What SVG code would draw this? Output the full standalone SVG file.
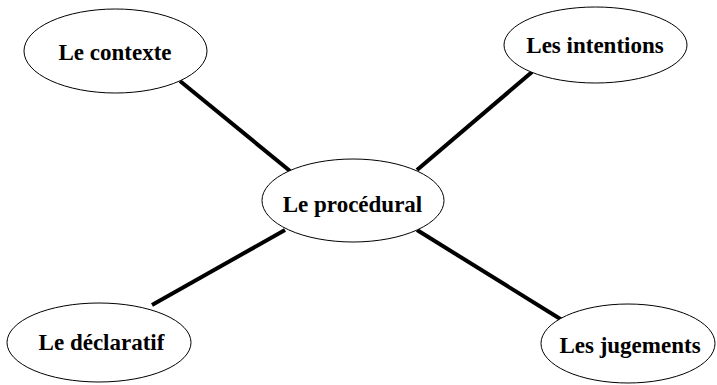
<svg xmlns="http://www.w3.org/2000/svg" width="717" height="385" viewBox="0 0 717 385">
<style>
.n ellipse{fill:#fff;stroke:#000;stroke-width:1}
.n text{font-family:"Liberation Serif","Times New Roman",serif;font-weight:bold;font-size:23px;text-anchor:middle;fill:#000}
#edges line{stroke:#000;stroke-width:4}
</style>
<rect width="717" height="385" fill="#fff"/>
<g id="edges">
<line x1="180" y1="81" x2="290" y2="171"/>
<line x1="532" y1="72" x2="417" y2="170"/>
<line x1="285" y1="230" x2="152" y2="305"/>
<line x1="417" y1="230" x2="562" y2="320"/>
</g>
<g id="contexte" class="n"><ellipse cx="115.5" cy="51" rx="91.5" ry="42"/><text x="115" y="60">Le contexte</text></g>
<g id="intentions" class="n"><ellipse cx="595.5" cy="45" rx="91.5" ry="38"/><text x="595" y="53">Les intentions</text></g>
<g id="procedural" class="n"><ellipse cx="353" cy="200.5" rx="91" ry="41.5"/><text x="352.5" y="212">Le procédural</text></g>
<g id="declaratif" class="n"><ellipse cx="99" cy="342.5" rx="92" ry="39.5"/><text x="101.5" y="350">Le déclaratif</text></g>
<g id="jugements" class="n"><ellipse cx="628" cy="343.5" rx="87" ry="39.5"/><text x="630" y="353">Les jugements</text></g>
</svg>
